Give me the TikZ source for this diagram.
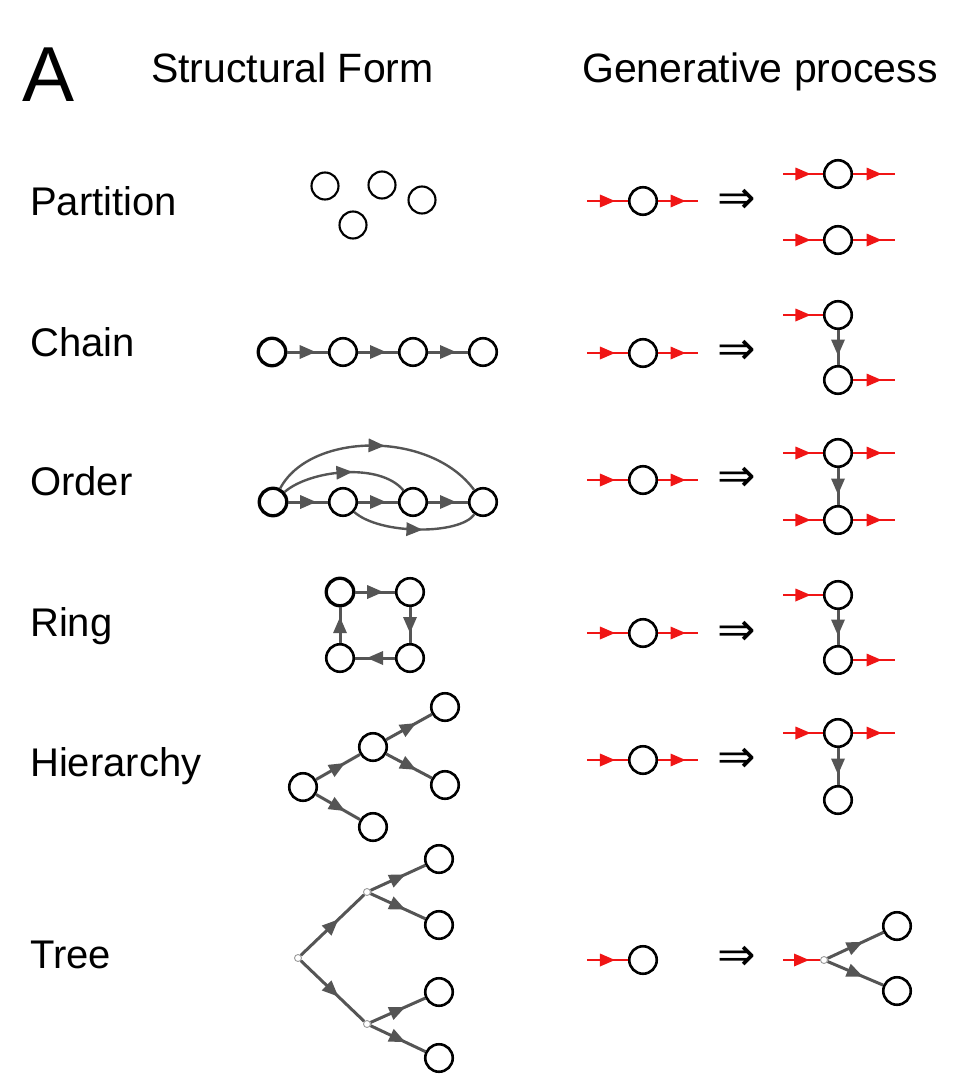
\documentclass[tikz,border=0pt]{standalone}
\usepackage{fontspec}
\setmainfont{Liberation Sans}
\newfontfamily\symfont{DejaVu Sans}
\usetikzlibrary{decorations.markings}
\definecolor{edgegray}{HTML}{555555}
\definecolor{gred}{HTML}{F01515}
\begin{document}
\begin{tikzpicture}[x=1pt,y=-1pt,
  lbl/.style={anchor=base west,inner sep=0pt,font=\fontsize{40}{48}\selectfont},
  hdr/.style={anchor=base west,inner sep=0pt,font=\fontsize{41}{48}\selectfont},
  nd/.style={circle,draw=black,line width=2.6pt,minimum size=27.5pt,inner sep=0pt},
  ndb/.style={nd,line width=3.3pt},
  pnd/.style={circle,draw=black,line width=2.1pt,minimum size=27pt,inner sep=0pt},
  dotn/.style={circle,draw=black!40,line width=0.9pt,minimum size=7pt,inner sep=0pt},
  gtri/.style={decoration={markings,mark=at position 0.5 with {\fill (-8pt,-7pt) -- (8pt,0pt) -- (-8pt,7pt) -- cycle;}},postaction={decorate}},
  rtri/.style={decoration={markings,mark=at position 0.5 with {\fill (-7.5pt,-6.5pt) -- (7.5pt,0pt) -- (-7.5pt,6.5pt) -- cycle;}},postaction={decorate}},
  gedge/.style={color=edgegray,line width=3pt,gtri},
  redge/.style={color=gred,line width=2.7pt,rtri},
  impl/.style={inner sep=0pt,font=\symfont\fontsize{46}{48}\selectfont}
]
\useasboundingbox (0,0) rectangle (973,1089);

% headers
\node[anchor=base west,inner sep=0pt,font=\fontsize{78}{80}\selectfont] (hA) at (22,102) {A};
\node[hdr] (hS) at (151,83) {Structural Form};
\node[hdr] (hG) at (582,83) {Generative process};

% row labels
\node[lbl] (lP) at (30,215) {Partition};
\node[lbl] (lC) at (30,356) {Chain};
\node[lbl] (lO) at (30,495) {Order};
\node[lbl] (lR) at (30,636) {Ring};
\node[lbl] (lH) at (30,776) {Hierarchy};
\node[lbl] (lT) at (30,968) {Tree};

% ---------- Partition ----------
\node[pnd] (pa1) at (325,186) {};
\node[pnd] (pa2) at (382,185) {};
\node[pnd] (pa3) at (422,200) {};
\node[pnd] (pa4) at (353,225) {};

% ---------- Chain ----------
\node[ndb] (ch1) at (272,352) {};
\node[nd] (ch2) at (343,352) {};
\node[nd] (ch3) at (413,352) {};
\node[nd] (ch4) at (483,352) {};
\draw[gedge] (ch1) -- (ch2);
\draw[gedge] (ch2) -- (ch3);
\draw[gedge] (ch3) -- (ch4);

% ---------- Order ----------
\node[ndb] (or1) at (273,502) {};
\node[nd] (or2) at (343,502) {};
\node[nd] (or3) at (413,502) {};
\node[nd] (or4) at (483,502) {};
\draw[gedge] (or1) -- (or2);
\draw[gedge] (or2) -- (or3);
\draw[gedge] (or3) -- (or4);
\draw[gedge,line width=2.4pt] (or1) .. controls (310,432) and (430,430) .. (or4);
\draw[gedge,line width=2.4pt] (or1) .. controls (310,470) and (380,462) .. (or3);
\draw[gedge,line width=2.4pt] (or2) .. controls (380,535) and (460,535) .. (or4);

% ---------- Ring ----------
\node[ndb] (ri1) at (340,592) {};
\node[nd] (ri2) at (410,592) {};
\node[nd] (ri3) at (410,658) {};
\node[nd] (ri4) at (340,658) {};
\draw[gedge] (ri1) -- (ri2);
\draw[gedge] (ri2) -- (ri3);
\draw[gedge] (ri3) -- (ri4);
\draw[gedge] (ri4) -- (ri1);

% ---------- Hierarchy ----------
\node[nd] (hi1) at (303,787) {};
\node[nd] (hi2) at (373,747) {};
\node[nd] (hi3) at (445,707) {};
\node[nd] (hi4) at (445,785) {};
\node[nd] (hi5) at (373,827) {};
\draw[gedge] (hi1) -- (hi2);
\draw[gedge] (hi1) -- (hi5);
\draw[gedge] (hi2) -- (hi3);
\draw[gedge] (hi2) -- (hi4);

% ---------- Tree ----------
\node[dotn] (tr0) at (298,958) {};
\node[dotn] (tr1) at (367,892) {};
\node[dotn] (tr2) at (367,1024) {};
\node[nd] (tl1) at (439,859) {};
\node[nd] (tl2) at (439,925) {};
\node[nd] (tl3) at (439,992) {};
\node[nd] (tl4) at (439,1058) {};
\draw[gedge] (tr0) -- (tr1);
\draw[gedge] (tr0) -- (tr2);
\draw[gedge] (tr1) -- (tl1);
\draw[gedge] (tr1) -- (tl2);
\draw[gedge] (tr2) -- (tl3);
\draw[gedge] (tr2) -- (tl4);

% ---------- Generative: Partition ----------
\node[nd] (aL) at (643,201) {};
\coordinate (aLi) at (587,201); \coordinate (aLo) at (698,201);
\draw[redge] (aLi) -- (aL); \draw[redge] (aL) -- (aLo);
\node[impl] (aI) at (737,201) {⇒};
\node[nd] (aR1) at (838,174) {};
\coordinate (aR1i) at (783,174); \coordinate (aR1o) at (895,174);
\draw[redge] (aR1i) -- (aR1); \draw[redge] (aR1) -- (aR1o);
\node[nd] (aR2) at (838,240) {};
\coordinate (aR2i) at (783,240); \coordinate (aR2o) at (895,240);
\draw[redge] (aR2i) -- (aR2); \draw[redge] (aR2) -- (aR2o);

% ---------- Generative: Chain ----------
\node[nd] (bL) at (643,353) {};
\coordinate (bLi) at (587,353); \coordinate (bLo) at (698,353);
\draw[redge] (bLi) -- (bL); \draw[redge] (bL) -- (bLo);
\node[impl] (bI) at (737,352) {⇒};
\node[nd] (bR1) at (838,315) {};
\coordinate (bR1i) at (783,315);
\draw[redge] (bR1i) -- (bR1);
\node[nd] (bR2) at (838,380) {};
\coordinate (bR2o) at (895,380);
\draw[redge] (bR2) -- (bR2o);
\draw[gedge] (bR1) -- (bR2);

% ---------- Generative: Order ----------
\node[nd] (cL) at (643,480) {};
\coordinate (cLi) at (587,480); \coordinate (cLo) at (698,480);
\draw[redge] (cLi) -- (cL); \draw[redge] (cL) -- (cLo);
\node[impl] (cI) at (737,479) {⇒};
\node[nd] (cR1) at (838,453) {};
\coordinate (cR1i) at (783,453); \coordinate (cR1o) at (895,453);
\draw[redge] (cR1i) -- (cR1); \draw[redge] (cR1) -- (cR1o);
\node[nd] (cR2) at (838,520) {};
\coordinate (cR2i) at (783,520); \coordinate (cR2o) at (895,520);
\draw[redge] (cR2i) -- (cR2); \draw[redge] (cR2) -- (cR2o);
\draw[gedge] (cR1) -- (cR2);

% ---------- Generative: Ring ----------
\node[nd] (dL) at (643,633) {};
\coordinate (dLi) at (587,633); \coordinate (dLo) at (698,633);
\draw[redge] (dLi) -- (dL); \draw[redge] (dL) -- (dLo);
\node[impl] (dI) at (737,633) {⇒};
\node[nd] (dR1) at (838,595) {};
\coordinate (dR1i) at (783,595);
\draw[redge] (dR1i) -- (dR1);
\node[nd] (dR2) at (838,660) {};
\coordinate (dR2o) at (895,660);
\draw[redge] (dR2) -- (dR2o);
\draw[gedge] (dR1) -- (dR2);

% ---------- Generative: Hierarchy ----------
\node[nd] (eL) at (643,760) {};
\coordinate (eLi) at (587,760); \coordinate (eLo) at (698,760);
\draw[redge] (eLi) -- (eL); \draw[redge] (eL) -- (eLo);
\node[impl] (eI) at (737,760) {⇒};
\node[nd] (eR1) at (838,733) {};
\coordinate (eR1i) at (783,733); \coordinate (eR1o) at (895,733);
\draw[redge] (eR1i) -- (eR1); \draw[redge] (eR1) -- (eR1o);
\node[nd] (eR2) at (838,800) {};
\draw[gedge] (eR1) -- (eR2);

% ---------- Generative: Tree ----------
\node[nd] (fL) at (643,960) {};
\coordinate (fLi) at (587,960);
\draw[redge] (fLi) -- (fL);
\node[impl] (fI) at (737,958) {⇒};
\node[dotn] (fD) at (824,960) {};
\coordinate (fDi) at (783,960);
\draw[redge] (fDi) -- (fD);
\node[nd] (fR1) at (897,926) {};
\node[nd] (fR2) at (897,991) {};
\draw[gedge] (fD) -- (fR1);
\draw[gedge] (fD) -- (fR2);
\end{tikzpicture}
\end{document}
